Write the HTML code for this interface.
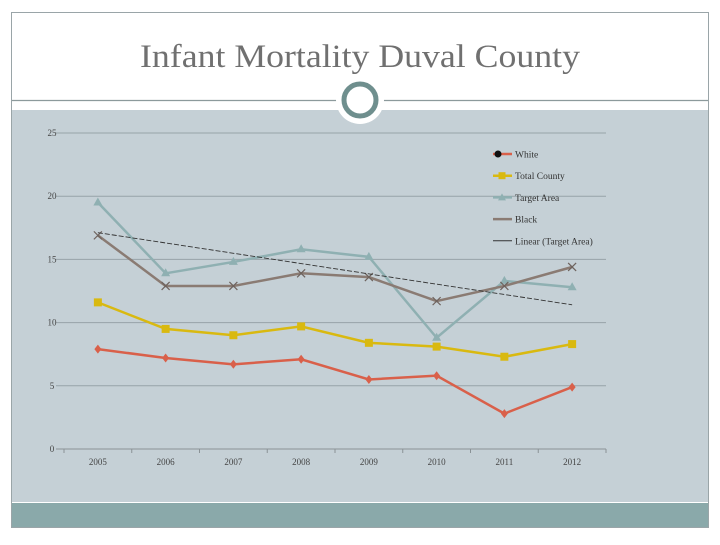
<!DOCTYPE html>
<html><head><meta charset="utf-8"><style>
body{margin:0;width:720px;height:540px;background:#fff;overflow:hidden;font-family:"Liberation Serif",serif}
</style></head><body>
<svg width="720" height="540" xmlns="http://www.w3.org/2000/svg">
<rect x="11.5" y="12.5" width="697" height="515" fill="#fff" stroke="#9aa5a8"/>
<rect x="12" y="110" width="696" height="392" fill="#c5d0d6"/>
<rect x="12" y="503" width="696" height="24" fill="#8aa9aa"/>
<line x1="12" y1="100.5" x2="708" y2="100.5" stroke="#8c9a9c" stroke-width="1.2"/>
<circle cx="360" cy="100" r="24" fill="#fff"/>
<circle cx="360" cy="100" r="16" fill="#fff" stroke="#6f8f8e" stroke-width="5"/>
<text x="140" y="67" textLength="440" lengthAdjust="spacingAndGlyphs" font-size="33" fill="#707070" font-family="Liberation Serif,serif">Infant Mortality Duval County</text>
<g id="plot"></g>
</svg>
<script>
const categories=["2005","2006","2007","2008","2009","2010","2011","2012"];
const white=[7.9,7.2,6.7,7.1,5.5,5.8,2.8,4.9];
const totalCounty=[11.6,9.5,9.0,9.7,8.4,8.1,7.3,8.3];
const targetArea=[19.5,13.9,14.8,15.8,15.2,8.8,13.3,12.8];
const black=[16.9,12.9,12.9,13.9,13.6,11.7,12.9,14.4];
const yTicks=[0,5,10,15,20,25];
const NS="http://www.w3.org/2000/svg";
const g=document.getElementById('plot');
const X0=64,X1=606,Y0=449,Y1=133,YMAX=25;
const bw=(X1-X0)/categories.length;
const xs=i=>X0+bw*(i+0.5);
const ys=v=>Y0-(v/YMAX)*(Y0-Y1);
function el(t,a){const e=document.createElementNS(NS,t);for(const k in a)e.setAttribute(k,a[k]);g.appendChild(e);return e;}
yTicks.forEach(t=>{
  const l=el('line',{x1:X0-8,x2:X1,y1:ys(t),y2:ys(t),stroke:t===0?'#8a9296':'#97a3a8','stroke-width':1});
  
  
  const tx=el('text',{x:52,y:ys(t)+3,'text-anchor':'middle','font-size':9,fill:'#444'});tx.textContent=t;
  
  
});
for(let i=0;i<=categories.length;i++){
  const l=el('line',{x1:X0+bw*i,x2:X0+bw*i,y1:Y0,y2:Y0+4,stroke:'#8a9296'});
  
  
}
categories.forEach((c,i)=>{
  const tx=el('text',{x:xs(i),y:465,'text-anchor':'middle','font-size':9,fill:'#444'});tx.textContent=c;
  
  
});
const n=targetArea.length,mx=(n-1)/2,my=targetArea.reduce((a,b)=>a+b,0)/n;
let sxy=0,sxx=0;targetArea.forEach((v,i)=>{sxy+=(i-mx)*(v-my);sxx+=(i-mx)*(i-mx);});
const slope=sxy/sxx,icpt=my-slope*mx;
function series(data,color,marker,name){
  const p=el('polyline',{points:data.map((v,i)=>xs(i)+','+ys(v)).join(' '),fill:'none',stroke:color,'stroke-width':2.5});
  
  
  data.forEach((v,i)=>{
    const x=xs(i),y=ys(v);let m;
    if(marker==='diamond')m=el('polygon',{points:`${x},${y-4.5} ${x+3.5},${y} ${x},${y+4.5} ${x-3.5},${y}`,fill:color});
    else if(marker==='square')m=el('rect',{x:x-4,y:y-4,width:8,height:8,fill:color});
    else if(marker==='triangle')m=el('polygon',{points:`${x},${y-5} ${x+4.5},${y+3} ${x-4.5},${y+3}`,fill:color});
    else m=el('path',{d:`M${x-4},${y-4}L${x+4},${y+4}M${x+4},${y-4}L${x-4},${y+4}`,stroke:'#6d625d','stroke-width':1.2});
    
    
  });
}
series(targetArea,'#8fb0b2','triangle','target-area');
series(black,'#8a7b73','x','black');
series(totalCounty,'#d9b910','square','total-county');
series(white,'#d9604a','diamond','white');
const tl=el('line',{x1:xs(0),y1:ys(icpt),x2:xs(n-1),y2:ys(icpt+slope*(n-1)),stroke:'#333','stroke-width':0.9,'stroke-dasharray':'5,2'});


const leg=[["White","#d9604a","diamond"],["Total County","#d9b910","square"],["Target Area","#8fb0b2","triangle"],["Black","#8a7b73","line"],["Linear (Target Area)","#333","thin"]];
leg.forEach((L,i)=>{
  const y=154+i*21.7;
  const ln=el('line',{x1:493,x2:512,y1:y,y2:y,stroke:L[1],'stroke-width':L[2]==='thin'?1:2.5});
  
  
  let m=null;
  if(L[2]==='diamond')m=el('circle',{cx:498,cy:y,r:3.5,fill:'#111'});
  if(L[2]==='square')m=el('rect',{x:498.5,y:y-3.5,width:7,height:7,fill:L[1]});
  if(L[2]==='triangle')m=el('polygon',{points:`502,${y-4} 506,${y+3} 498,${y+3}`,fill:L[1]});
  if(m){
  }
  const tx=el('text',{x:515,y:y+3.5,'font-size':9.5,fill:'#333'});tx.textContent=L[0];
  
  
});
</script>
</body></html>
